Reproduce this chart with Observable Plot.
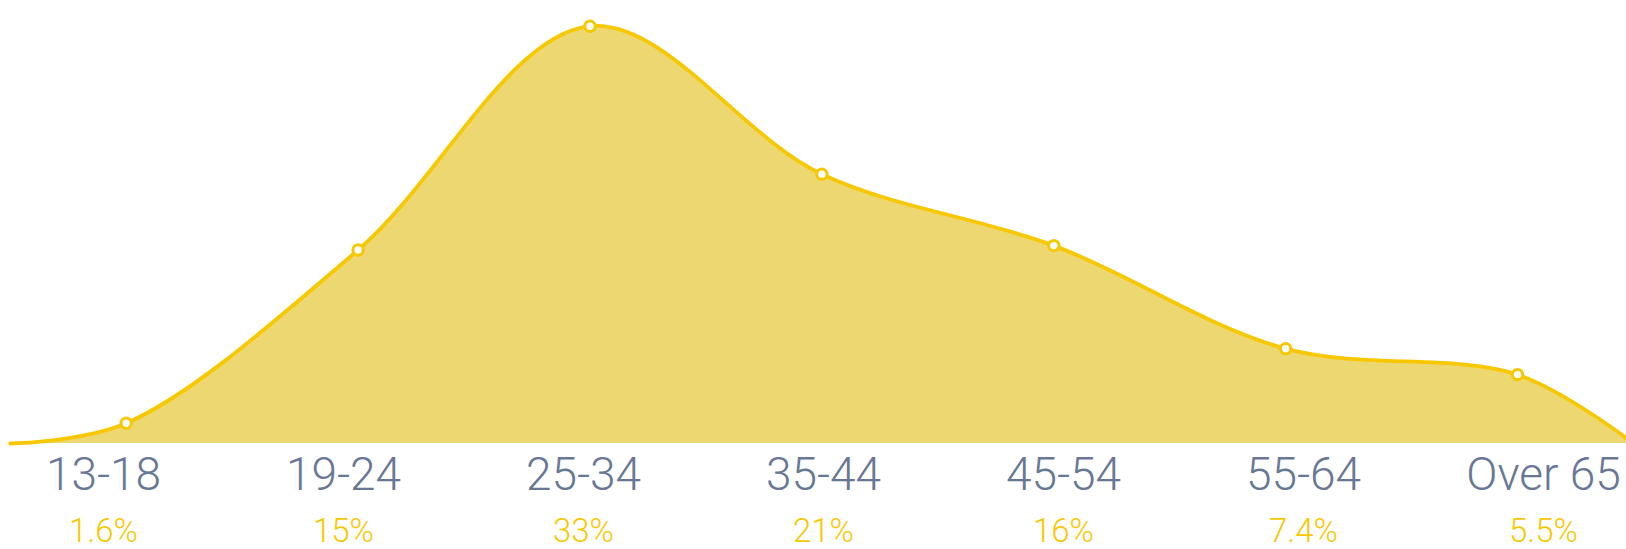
<!DOCTYPE html>
<html>
<head>
<meta charset="utf-8">
<script src="https://cdn.jsdelivr.net/npm/d3@7"></script>
<script src="https://cdn.jsdelivr.net/npm/@observablehq/plot@0.6"></script>
<style>
  html, body { margin: 0; padding: 0; background: #fff; overflow: hidden; }
  #chart { width: 1626px; height: 549px; overflow: hidden; }
  #chart svg { display: block; }
</style>
</head>
<body>
<div id="chart"></div>
<script>
// Data
const categories = ["13-18", "19-24", "25-34", "35-44", "45-54", "55-64", "Over 65"];
const values = [1.6, 15.3, 33, 21.3, 15.65, 7.5, 5.45];
const valueLabels = ["1.6%", "15%", "33%", "21%", "16%", "7.4%", "5.5%"];

// Colours
const lineColor = "#f7c800";
const fillColor = "#edd770";
const axisTextColor = "#687796";

// Points on an index axis; the curve runs to zero half a step beyond each end
const points = categories.map((c, i) => ({i, category: c, value: values[i]}));
const curvePoints = [{i: -0.5, value: 0}, ...points, {i: categories.length - 0.5, value: 0}];

const chart = Plot.plot({
  width: 1626,
  height: 446,
  margin: 0,
  x: {domain: [-0.5, 6.5], range: [9.75, 1633], axis: null},
  y: {domain: [0, 33], range: [443, 25.7], axis: null},
  marks: [
    Plot.areaY(curvePoints, {x: "i", y: "value", fill: fillColor, curve: "catmull-rom"}),
    Plot.lineY(curvePoints, {x: "i", y: "value", stroke: lineColor, strokeWidth: 3.8, curve: "catmull-rom"}),
    Plot.dot(points, {x: "i", y: "value", r: 5.2, fill: "white", stroke: lineColor, strokeWidth: 3})
  ]
});

const labelRows = categories.map((c, i) => ({category: c, label: valueLabels[i]}));
const labels = Plot.plot({
  width: 1626,
  height: 103,
  margin: 0,
  x: {type: "point", domain: categories, range: [100.8, 1545], padding: 0, axis: null},
  marks: [
    Plot.text(labelRows, {x: "category", text: "category", frameAnchor: "top", lineAnchor: "bottom", dy: 43.5,
      fill: axisTextColor, fontSize: 46, fontFamily: "Roboto", fontWeight: 300}),
    Plot.text(labelRows, {x: "category", text: "label", frameAnchor: "top", lineAnchor: "bottom", dy: 95,
      fill: lineColor, fontSize: 33, fontFamily: "Roboto", fontWeight: 300})
  ]
});

const el = document.getElementById("chart");
el.appendChild(chart);
el.appendChild(labels);
</script>
</body>
</html>
